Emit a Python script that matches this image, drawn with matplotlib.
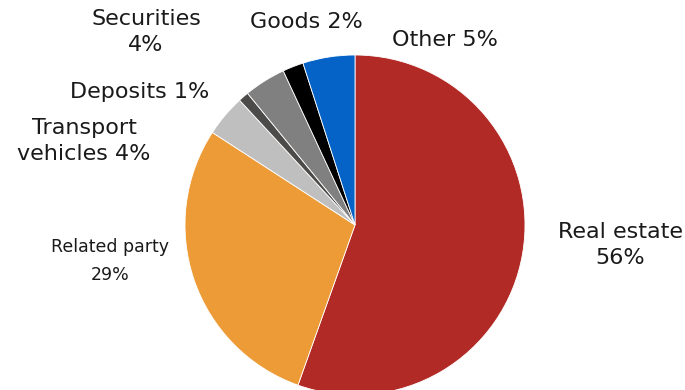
import numpy as np
import matplotlib
matplotlib.use("Agg")
import matplotlib.pyplot as plt

# collateral structure, share of total (%)
categories = ["Real estate", "Related party", "Transport vehicles", "Deposits",
              "Securities", "Goods", "Other"]
shares = [56, 29, 4, 1, 4, 2, 5]
colors = ["#B22A26", "#EC9B37", "#BFBFBF", "#4D4B4A", "#808080", "#000000", "#0563C8"]

W, H = 685, 390
fig = plt.figure(figsize=(W / 100, H / 100), dpi=100)

# pie centre and radius in pixels
cx, cy, r = 355, 225, 170
ax = fig.add_axes([(cx - r) / W, (H - cy - r) / H, 2 * r / W, 2 * r / H])
ax.pie(shares, colors=colors, startangle=90, counterclock=False, radius=1,
       wedgeprops=dict(edgecolor="white", linewidth=0.6))
ax.set_xlim(-1, 1)
ax.set_ylim(-1, 1)
ax.set_aspect("equal")
ax.axis("off")


def px(x, y):
    return (x - cx) / r, (cy - y) / r


labels = [
    ("Securities\n4%", 146, 32, 16, 1.4),
    ("Goods 2%", 306, 22, 16, 1.4),
    ("Other 5%", 445, 40, 16, 1.4),
    ("Deposits 1%", 140, 92, 16, 1.4),
    ("Transport\nvehicles 4%", 84, 141, 16, 1.4),
    ("Related party\n29%", 110, 261, 12.5, 1.75),
    ("Real estate\n56%", 620, 245, 16, 1.4),
]
for txt, x, y, fs, ls in labels:
    ax.text(*px(x, y), txt, ha="center", va="center", fontsize=fs,
            color="#1a1a1a", linespacing=ls, clip_on=False)

fig.savefig("out.png", dpi=100)
